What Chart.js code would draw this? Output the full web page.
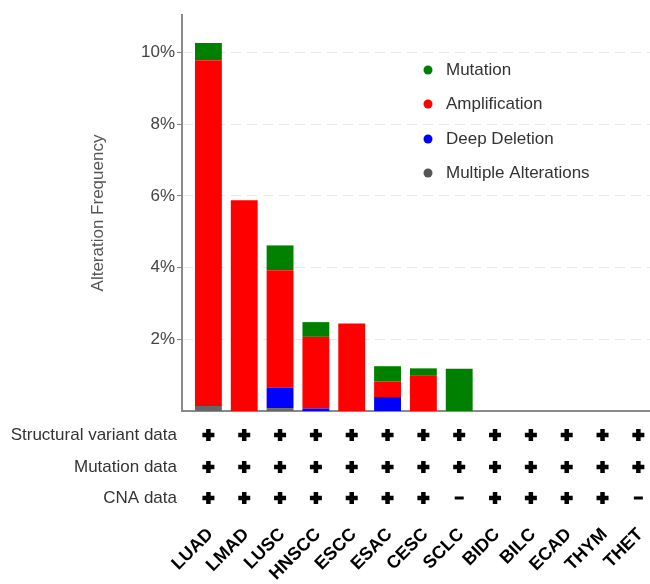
<!DOCTYPE html>
<html>
<head>
<meta charset="utf-8">
<script src="https://cdn.jsdelivr.net/npm/chart.js@4.4.1/dist/chart.umd.min.js"></script>
<style>
  html, body { margin: 0; padding: 0; background: #fff; }
  #wrap { width: 650px; height: 584px; position: relative; }
</style>
</head>
<body>
<div id="wrap"><canvas id="alteraciones"></canvas></div>
<script>
// Tipos de cancer
const cancerTypes = ['LUAD', 'LMAD', 'LUSC', 'HNSCC', 'ESCC', 'ESAC', 'CESC', 'SCLC', 'BIDC', 'BILC', 'ECAD', 'THYM', 'THET'];

// Frecuencia de alteracion (%) por tipo, de abajo hacia arriba en la pila
const multipleAlt   = [0.14, 0,    0.08, 0,    0,    0,    0,    0,    0, 0, 0, 0, 0];
const deepDeletion  = [0,    0,    0.57, 0.07, 0,    0.39, 0,    0,    0, 0, 0, 0, 0];
const amplification = [9.65, 5.88, 3.28, 2.00, 2.44, 0.43, 1.00, 0,    0, 0, 0, 0, 0];
const mutation      = [0.48, 0,    0.69, 0.41, 0,    0.43, 0.19, 1.18, 0, 0, 0, 0, 0];

// Tabla de datos disponibles (1 = +, 0 = -)
const svData  = [1, 1, 1, 1, 1, 1, 1, 1, 1, 1, 1, 1, 1];
const mutData = [1, 1, 1, 1, 1, 1, 1, 1, 1, 1, 1, 1, 1];
const cnaData = [1, 1, 1, 1, 1, 1, 1, 0, 1, 1, 1, 1, 0];
const tableRows = [
  { label: 'Structural variant data', values: svData },
  { label: 'Mutation data', values: mutData },
  { label: 'CNA data', values: cnaData }
];

const yTicks = [2, 4, 6, 8, 10];

const FONT = "'Liberation Sans', Arial, sans-serif";

const toPoints = arr => arr.map((v, i) => ({ x: i, y: v }));

const data = {
  datasets: [
    { label: 'Multiple Alterations', data: toPoints(multipleAlt), backgroundColor: '#666666' },
    { label: 'Deep Deletion', data: toPoints(deepDeletion), backgroundColor: '#0000ff' },
    { label: 'Amplification', data: toPoints(amplification), backgroundColor: '#ff0000' },
    { label: 'Mutation', data: toPoints(mutation), backgroundColor: '#008000' }
  ]
};

// Tabla y leyenda dibujadas sobre el canvas
const extras = {
  id: 'extras',
  afterDraw(chart) {
    const ctx = chart.ctx;
    const xs = chart.scales.x;
    const rowY = [435, 467, 498];
    ctx.save();
    tableRows.forEach((row, r) => {
      const y = rowY[r];
      ctx.font = '17px ' + FONT;
      ctx.fillStyle = '#333';
      ctx.textAlign = 'right';
      ctx.textBaseline = 'middle';
      ctx.fillText(row.label, 177, y);
      ctx.fillStyle = '#000';
      row.values.forEach((v, i) => {
        const cx = xs.getPixelForValue(i);
        if (v) {
          // cruz gruesa
          ctx.fillRect(cx - 6, y - 2.25, 12, 4.5);
          ctx.fillRect(cx - 2.25, y - 6, 4.5, 12);
        } else {
          ctx.fillRect(cx - 4.5, y - 1.5, 9, 3);
        }
      });
    });

    // leyenda
    const items = chart.data.datasets.slice().reverse();
    const legY = [70, 104, 139, 173];
    items.forEach((ds, k) => {
      ctx.beginPath();
      ctx.arc(428, legY[k], 4.5, 0, Math.PI * 2);
      ctx.fillStyle = ds.backgroundColor === '#666666' ? '#555' : ds.backgroundColor;
      ctx.fill();
      ctx.font = '17px ' + FONT;
      ctx.fillStyle = '#333';
      ctx.textAlign = 'left';
      ctx.textBaseline = 'middle';
      ctx.fillText(ds.label, 446, legY[k]);
    });
    ctx.restore();
  }
};

const options = {
  responsive: true,
  maintainAspectRatio: false,
  animation: false,
  barPercentage: 0.75,
  categoryPercentage: 1,
  layout: { padding: { top: 15, left: 0, right: 0, bottom: 0 } },
  plugins: {
    legend: { display: false },
    tooltip: { enabled: false }
  },
  scales: {
    x: {
      type: 'linear',
      stacked: true,
      offset: false,
      min: -0.737,
      max: 12.325,
      afterBuildTicks: s => { s.ticks = cancerTypes.map((c, i) => ({ value: i })); },
      afterFit: s => { s.height = 173; s.paddingLeft = 0; s.paddingRight = 0; },
      grid: { display: false, offset: false },
      border: { display: true, color: '#8a8a8a', width: 2 },
      ticks: {
        autoSkip: false,
        minRotation: 45,
        maxRotation: 45,
        padding: 105,
        labelOffset: 2,
        color: '#000',
        font: { family: FONT, size: 18, weight: 'bold' },
        callback: v => cancerTypes[v]
      }
    },
    y: {
      stacked: true,
      min: 0,
      max: 11.05,
      afterBuildTicks: s => { s.ticks = yTicks.map(v => ({ value: v })); },
      afterFit: s => { s.width = 182; },
      grid: { color: '#e3e8ec', lineWidth: 1, tickColor: '#777', tickLength: 5 },
      border: { display: true, color: '#8a8a8a', width: 2, dash: [10, 6] },
      ticks: {
        padding: 2,
        color: '#444',
        font: { family: FONT, size: 17 },
        callback: v => v + '%'
      },
      title: {
        display: true,
        text: 'Alteration Frequency',
        color: '#555',
        font: { family: FONT, size: 17 },
        padding: { top: 88, bottom: 0 }
      }
    }
  }
};

const grafico = new Chart(document.getElementById('alteraciones'), {
  type: 'bar',
  data: data,
  options: options,
  plugins: [extras]
});
</script>
</body>
</html>
